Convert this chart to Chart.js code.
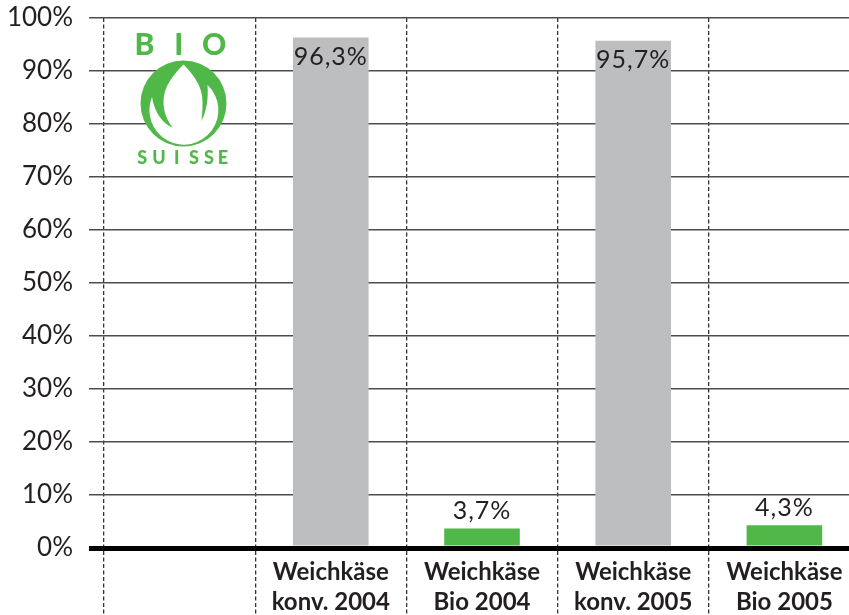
<!DOCTYPE html>
<html><head><meta charset="utf-8">
<script src="https://cdn.jsdelivr.net/npm/chart.js@4/dist/chart.umd.min.js"></script>
<style>
html,body{margin:0;padding:0;background:#fff;overflow:hidden;width:849px;height:615px;}
#wrap{position:relative;width:860px;height:640px;}
canvas{position:absolute;left:0;top:0;}
#logo{position:absolute;left:0;top:0;width:300px;height:200px;pointer-events:none;}
</style></head>
<body>
<div id="wrap">
<canvas id="c" width="860" height="640"></canvas>
<svg id="logo" width="300" height="200" viewBox="0 0 300 200">
  <text x="144.5 178.7 214.2" y="55" fill="#4fb848" font-family="Lato" font-weight="900" font-size="30" text-anchor="middle">BIO</text>
  <g transform="translate(183.5,103.5)">
    <circle cx="0" cy="0" r="43" fill="#4fb848"/>
    <path d="M -31.5,-6.5 A 34.5 34.5 0 1 0 24,-18.5 Q 0,-8 -31.5,-6.5 Z" fill="#fff"/>
    <path d="M -31.5,-6.5 C -29,9 -21,20 -11,24 L 18,17 C 23,8 25,-5 24,-18.5 L 0,-43 Z" fill="#4fb848"/>
    <path d="M 0,-39 C 10,-29 19,-17 19,-2 C 19,8 18.5,13 18,17 L 18,32 L -11,32 L -11,24 C -17,16 -20,8 -20,-2 C -20,-17 -10,-29 0,-39 Z" fill="#fff"/>
  </g>
  <text x="142.3 159 176.7 194 209 223" y="163.5" fill="#4fb848" font-family="Lato" font-weight="900" font-size="18" text-anchor="middle">SUISSE</text>
</svg>
</div>
<script>
const categories = [[''], ['Weichkäse', 'konv. 2004'], ['Weichkäse', 'Bio 2004'], ['Weichkäse', 'konv. 2005'], ['Weichkäse', 'Bio 2005']];
const shares = [null, 96.3, 3.7, 95.7, 4.3];
const barColors = ['#bdbec0', '#bdbec0', '#4fb848', '#bdbec0', '#4fb848'];
const yTicks = [0, 10, 20, 30, 40, 50, 60, 70, 80, 90, 100];

const valueLabels = {
  id: 'valueLabels',
  afterDatasetsDraw(chart) {
    const ctx = chart.ctx;
    const meta = chart.getDatasetMeta(0);
    ctx.save();
    ctx.font = '25px Lato';
    ctx.fillStyle = '#231f20';
    ctx.textAlign = 'center';
    ctx.textBaseline = 'middle';
    try { ctx.letterSpacing = '1px'; } catch (e) {}
    meta.data.forEach((bar, i) => {
      const v = shares[i];
      if (v === null || v === undefined) return;
      const txt = v.toFixed(1).replace('.', ',') + '%';
      const y = v > 50 ? bar.y + 19 : bar.y - 17.5;
      ctx.fillText(txt, bar.x, y);
    });
    ctx.restore();
  }
};

function build() {
  new Chart(document.getElementById('c'), {
    type: 'bar',
    data: {
      labels: categories,
      datasets: [{
        data: shares,
        backgroundColor: barColors,
        borderWidth: 0,
        barPercentage: 1.0,
        categoryPercentage: 0.5
      }]
    },
    options: {
      responsive: false,
      animation: false,
      events: [],
      layout: { padding: { top: 18, right: 0, left: 0, bottom: 0 } },
      plugins: { legend: { display: false }, tooltip: { enabled: false } },
      scales: {
        x: {
          offset: true,
          grid: {
            offset: true,
            color: '#333',
            lineWidth: 1.3,
            drawTicks: true,
            tickLength: 100,
            tickColor: '#333',
            tickWidth: 1.3,
            tickBorderDash: [4, 2.5]
          },
          border: { display: true, color: '#000', width: 5, z: 1, dash: [4, 2.5] },
          ticks: {
            color: '#231f20',
            font: { family: 'Lato', size: 24, weight: 'bold', lineHeight: 1.25 },
            padding: -91,
            maxRotation: 0,
            autoSkip: false
          },
          afterFit(s) { s.height = 92; }
        },
        y: {
          min: 0,
          max: 100,
          afterBuildTicks(s) { s.ticks = yTicks.map(v => ({ value: v })); },
          grid: {
            color: (c) => (c.tick && c.tick.value === 0 ? '#000' : '#4d4d4d'),
            lineWidth: (c) => (c.tick && c.tick.value === 0 ? 5 : 1.5),
            drawTicks: true,
            tickLength: 15,
            tickColor: (c) => (c.tick && c.tick.value === 0 ? '#000' : '#4d4d4d'),
            tickWidth: (c) => (c.tick && c.tick.value === 0 ? 5 : 1.5)
          },
          border: { display: false },
          ticks: {
            color: '#231f20',
            font: { family: 'Lato', size: 26 },
            padding: 16,
            callback: (v) => v + '%'
          },
          afterFit(s) { s.width = 104; s.paddingTop = 0; s.paddingBottom = 0; }
        }
      }
    },
    plugins: [valueLabels]
  });
}
Promise.all([
  document.fonts.load('26px Lato'),
  document.fonts.load('bold 24px Lato'),
  document.fonts.load('900 30px Lato')
]).then(build, build);
</script>
</body></html>
